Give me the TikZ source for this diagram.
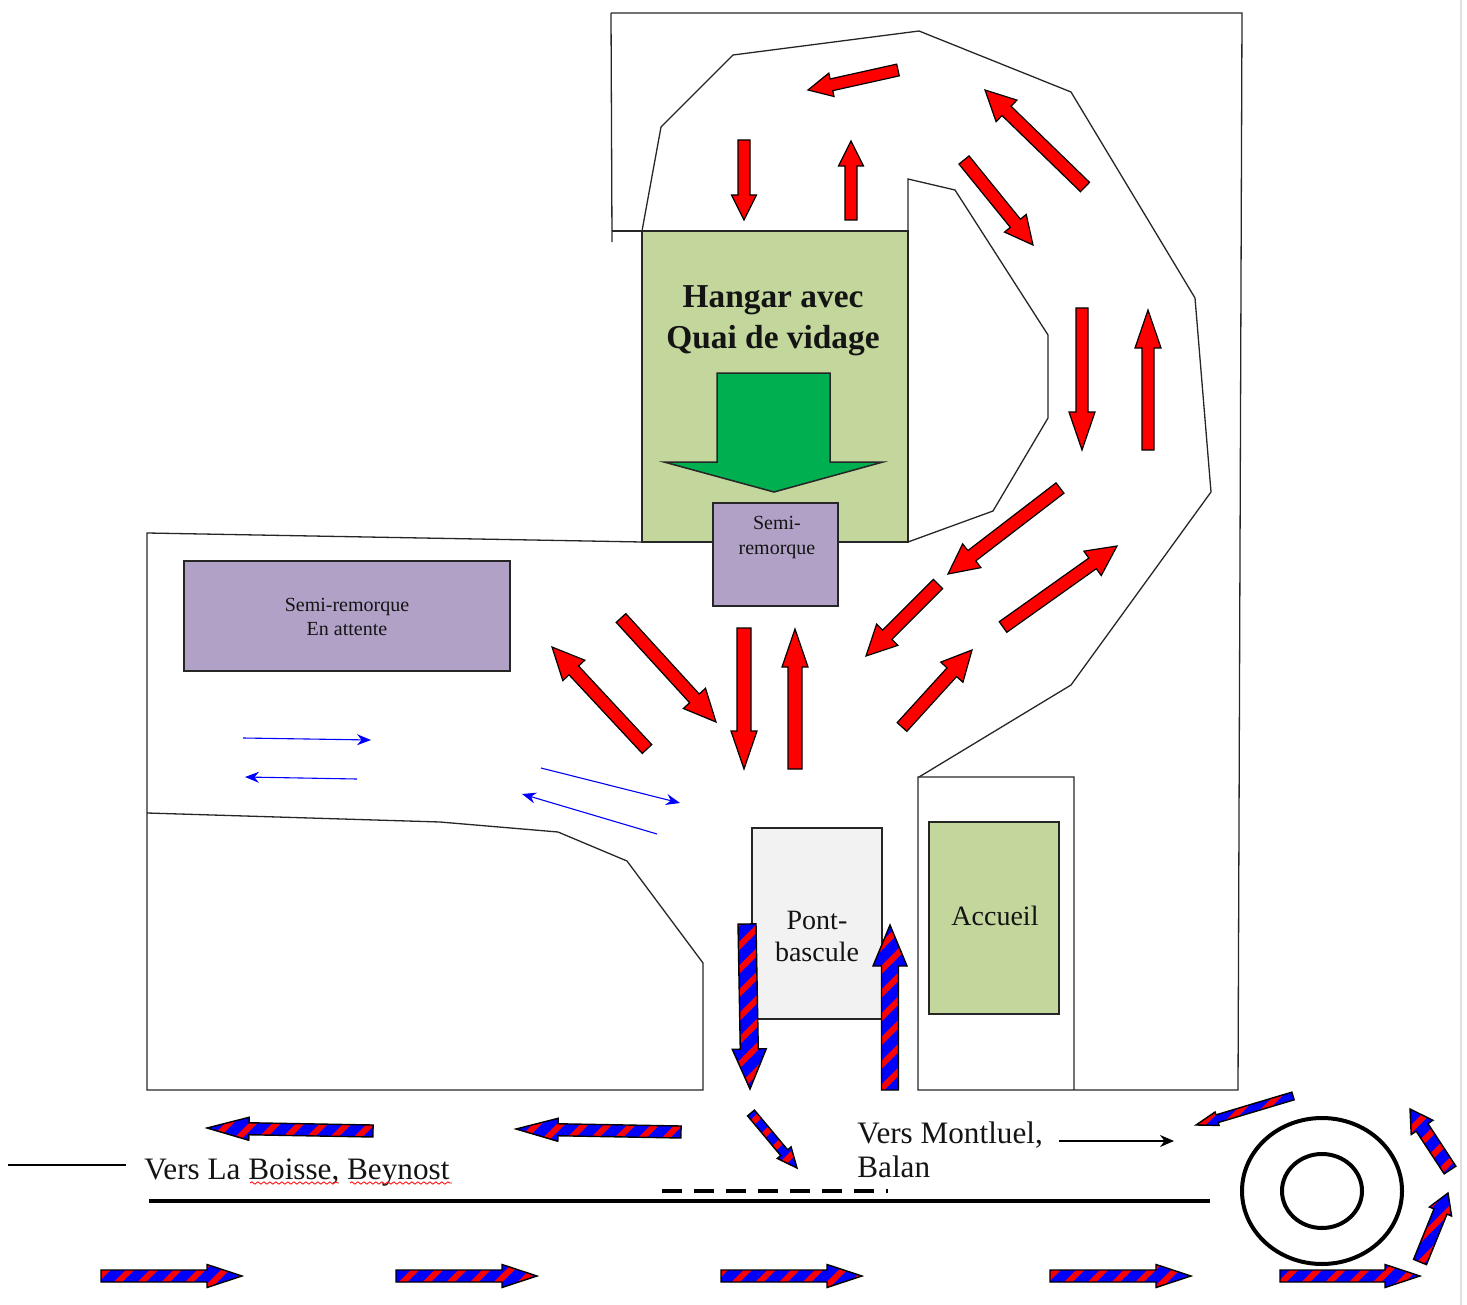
\documentclass[tikz,border=0pt]{standalone}
\usepackage{fontspec}
\setmainfont{Liberation Serif}
\usetikzlibrary{calc,arrows.meta,patterns.meta,decorations.pathmorphing}
\definecolor{hangargreen}{HTML}{C3D69B}
\definecolor{trailer}{HTML}{B2A1C7}
\definecolor{bigarrow}{HTML}{00B050}
\definecolor{bridge}{HTML}{F2F2F2}
\tikzset{
  outline/.style={draw=black!85,line width=0.65pt,line join=miter},
  box/.style={draw=black!85,line width=0.75pt},
  redarrow/.style={draw=black,line width=0.6pt,fill=red,line join=miter},
  stripearrow/.style={draw=black,line width=0.7pt,line join=miter,preaction={fill=blue},
    pattern={Lines[angle=45,distance=8.4pt,line width=3pt]},pattern color=red},
  bluearrow/.style={draw=blue,line width=0.55pt,-{Stealth[length=7pt,width=5.5pt]}},
  txt/.style={text=black!92,inner sep=0pt,align=center}
}
% style, x1,y1, x2,y2, shaft width, head width, head length (pixels)
\newcommand\blockarr[8]{%
  \coordinate (tl) at (#2,#3);
  \coordinate (tp) at (#4,#5);
  \coordinate (hb) at ($(tp)!{#8*0.5pt}!(tl)$);
  \path[#1] ($(tl)!{#6*0.25pt}!90:(tp)$) -- ($(hb)!{#6*0.25pt}!90:(tp)$)
    -- ($(hb)!{#7*0.25pt}!90:(tp)$) -- (tp) -- ($(hb)!{#7*0.25pt}!-90:(tp)$)
    -- ($(hb)!{#6*0.25pt}!-90:(tp)$) -- ($(tl)!{#6*0.25pt}!-90:(tp)$) -- cycle;
}
\begin{document}
\begin{tikzpicture}[x=0.5pt,y=-0.5pt]
\useasboundingbox (0,0) rectangle (1467,1305);
% window edge
\draw[black!12,line width=0.8pt] (1461,0) -- (1461,1305);
% site outline
\draw[outline] (611,13) -- (1242,13) -- (1238,1090) -- (918,1090) -- (918,777) -- (1074,777) -- (1074,1090);
\draw[outline] (611,13) -- (612,242);
\draw[outline] (612,231) -- (642,231);
% hangar
\path[box,fill=hangargreen] (642,231) rectangle (908,542);
% circulation loop
\draw[outline] (642,231) -- (661,127) -- (733,55) -- (919,31) -- (1071,92) -- (1195,298) -- (1211,492) -- (1071,685) -- (919,777);
\draw[outline] (908,231) -- (908,179) -- (955,190) -- (1048,335) -- (1048,418) -- (993,511) -- (908,542);
% parking and lower lot
\draw[outline] (642,542) -- (147,533) -- (147,1090) -- (703,1090) -- (703,963) -- (627,861) -- (558,832) -- (440,822) -- (147,813);
% big green arrow
\draw[box,fill=bigarrow] (717,373) -- (830,373) -- (830,462) -- (883,462) -- (774,492) -- (664,462) -- (717,462) -- cycle;
\node[txt,font=\bfseries\fontsize{16.7}{20.5}\selectfont] (hangar) at (773,321) {Hangar avec\\Quai de vidage};
% buildings
\path[box,fill=trailer] (184,561) rectangle (510,671);
\node[txt,font=\fontsize{10}{12}\selectfont] (attente) at (347,617) {Semi-remorque\\En attente};
\path[box,fill=trailer] (713,503) rectangle (838,606);
\node[txt,font=\fontsize{10}{12.5}\selectfont] (semi) at (777,538) {Semi-\\remorque};
\path[box,fill=bridge] (752,828) rectangle (882,1019);
\node[txt,font=\fontsize{14}{16}\selectfont] (pont) at (817,936) {Pont-\\bascule};
\path[box,fill=hangargreen] (929,822) rectangle (1059,1014);
\node[txt,font=\fontsize{14}{16}\selectfont] (accueil) at (995,916) {Accueil};
% red arrows
\blockarr{redarrow}{898}{70}{808}{90}{12}{24}{24}
\blockarr{redarrow}{1085}{187}{985}{90}{13}{30}{30}
\blockarr{redarrow}{964}{160}{1033}{245}{13}{28}{28}
\blockarr{redarrow}{744}{140}{744}{220}{12}{25}{25}
\blockarr{redarrow}{851}{220}{851}{141}{12}{25}{25}
\blockarr{redarrow}{1082}{308}{1082}{450}{12}{26}{38}
\blockarr{redarrow}{1148}{450}{1148}{310}{12}{26}{38}
\blockarr{redarrow}{1060}{488}{948}{574}{13}{30}{30}
\blockarr{redarrow}{938}{584}{866}{656}{13}{30}{30}
\blockarr{redarrow}{1003}{627}{1117}{546}{13}{30}{30}
\blockarr{redarrow}{902}{727}{972}{650}{13}{30}{30}
\blockarr{redarrow}{647}{749}{552}{647}{13}{30}{32}
\blockarr{redarrow}{621}{618}{716}{722}{13}{30}{32}
\blockarr{redarrow}{744}{628}{744}{769}{14}{26}{38}
\blockarr{redarrow}{795}{769}{795}{629}{14}{26}{38}
% blue thin arrows
\coordinate (b1a) at (243,738); \coordinate (b1b) at (371,740);
\draw[bluearrow] (b1a) -- (b1b);
\coordinate (b2a) at (357,779); \coordinate (b2b) at (245,777);
\draw[bluearrow] (b2a) -- (b2b);
\coordinate (b3a) at (541,768); \coordinate (b3b) at (680,803);
\draw[bluearrow] (b3a) -- (b3b);
\coordinate (b4a) at (657,834); \coordinate (b4b) at (522,794);
\draw[bluearrow] (b4a) -- (b4b);
% striped arrows
\blockarr{stripearrow}{747}{924}{750}{1089}{18}{34}{40}
\blockarr{stripearrow}{890}{1090}{890}{925}{17}{34}{41}
\blockarr{stripearrow}{373}{1131}{207}{1128}{12}{23}{42}
\blockarr{stripearrow}{681}{1132}{516}{1129}{12}{23}{42}
\blockarr{stripearrow}{751}{1113}{797}{1168}{9}{18}{20}
\blockarr{stripearrow}{101}{1276}{242}{1276}{12}{23}{35}
\blockarr{stripearrow}{396}{1276}{537}{1276}{12}{23}{35}
\blockarr{stripearrow}{721}{1276}{862}{1276}{12}{23}{35}
\blockarr{stripearrow}{1050}{1276}{1191}{1276}{12}{23}{35}
\blockarr{stripearrow}{1280}{1276}{1420}{1276}{12}{23}{35}
\blockarr{stripearrow}{1293}{1096}{1196}{1125}{8}{14}{22}
\blockarr{stripearrow}{1450}{1170}{1410}{1109}{14}{26}{22}
\blockarr{stripearrow}{1420}{1262}{1448}{1193}{14}{24}{20}
% road and roundabout
\coordinate (roadw) at (149,1201); \coordinate (roade) at (1210,1201);
\draw[black,line width=2.4pt] (roadw) -- (roade);
\coordinate (gatew) at (662,1191); \coordinate (gatee) at (888,1191);
\draw[black,line width=2pt,dash pattern=on 10pt off 6pt] (gatew) -- (gatee);
\draw[black,line width=2pt] (1322,1191) ellipse [x radius=80,y radius=73];
\draw[black,line width=2pt] (1322,1191) ellipse [x radius=40,y radius=37];
% labels and plain lines
\coordinate (la) at (8,1165); \coordinate (lb) at (126,1165);
\draw[black,line width=0.7pt] (la) -- (lb);
\node[txt,anchor=base west,font=\fontsize{15.6}{18}\selectfont] (boisse) at (144,1179) {Vers La Boisse, Beynost};
\coordinate (sqa) at (250,1183); \coordinate (sqb) at (339,1183);
\coordinate (sqc) at (350,1183); \coordinate (sqd) at (452,1183);
\draw[red,line width=0.4pt,decorate,decoration={snake,segment length=3pt,amplitude=0.6pt}] (sqa) -- (sqb);
\draw[red,line width=0.4pt,decorate,decoration={snake,segment length=3pt,amplitude=0.6pt}] (sqc) -- (sqd);
\node[txt,anchor=north west,align=left,font=\fontsize{15.6}{17}\selectfont] (montluel) at (857,1121) {Vers Montluel,\\Balan};
\coordinate (ma) at (1059,1141); \coordinate (mb) at (1174,1141);
\draw[black,line width=0.7pt,-{Stealth[length=7pt,width=6pt]}] (ma) -- (mb);
\end{tikzpicture}
\end{document}
